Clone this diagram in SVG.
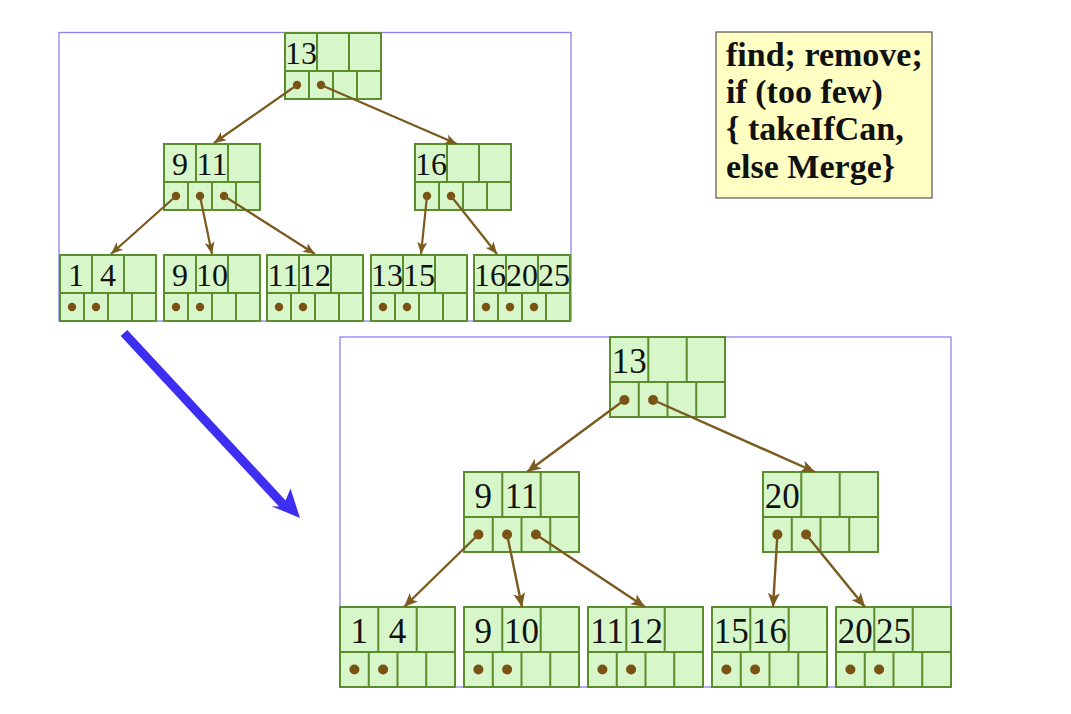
<svg xmlns="http://www.w3.org/2000/svg" width="1071" height="714" viewBox="0 0 1071 714">
<style>
.bg{fill:#ffffff}
.frame{fill:none;stroke:#8a84f0;stroke-width:1.3}
.nd{fill:#d7f7ca;stroke:#5b8c2e;stroke-width:2}
.dv{stroke:#5b8c2e;stroke-width:2}
.dot{fill:#7a5214}
.k1{font-family:"Liberation Serif",serif;font-size:32px;fill:#111;text-anchor:middle}
.k2{font-family:"Liberation Serif",serif;font-size:35px;fill:#111;text-anchor:middle}
.cn{stroke:#7a5a1e;fill:none}
.note{fill:#ffffc4;stroke:#555;stroke-width:1.2}
.nt{font-family:"Liberation Serif",serif;font-size:34px;font-weight:bold;fill:#111}
</style>
<defs>
<marker id="ah1" markerUnits="userSpaceOnUse" markerWidth="13" markerHeight="11" refX="12" refY="5.5" orient="auto">
<path d="M0,0.5 L12,5.5 L0,10.5 L3,5.5 z" fill="#7a5a1e"/>
</marker>
<marker id="ah2" markerUnits="userSpaceOnUse" markerWidth="15" markerHeight="13" refX="14" refY="6.5" orient="auto">
<path d="M0,0.5 L14,6.5 L0,12.5 L3.5,6.5 z" fill="#7a5a1e"/>
</marker>
</defs>
<rect class="bg" x="0" y="0" width="1071" height="714"/>

<rect class="frame" x="59" y="32.5" width="512" height="288.5"/>
<rect class="frame" x="340" y="337" width="611" height="350"/>

<!-- top tree nodes: 96x66, key row 38 -->
<g id="t-root">
<rect class="nd" x="285" y="33" width="96" height="66"/>
<path class="dv" d="M285,71H381M317,33V71M349,33V71M309,71V99M333,71V99M357,71V99"/>
<text class="k1" x="301" y="64">13</text>
<circle class="dot" cx="297" cy="85" r="4.2"/><circle class="dot" cx="321" cy="85" r="4.2"/>
</g>
<g id="t-mid-l">
<rect class="nd" x="164" y="144" width="96" height="66"/>
<path class="dv" d="M164,182H260M196,144V182M228,144V182M188,182V210M212,182V210M236,182V210"/>
<text class="k1" x="180" y="175">9</text><text class="k1" x="212" y="175">11</text>
<circle class="dot" cx="176" cy="196" r="4.2"/><circle class="dot" cx="200" cy="196" r="4.2"/><circle class="dot" cx="224" cy="196" r="4.2"/>
</g>
<g id="t-mid-r">
<rect class="nd" x="415" y="144" width="96" height="66"/>
<path class="dv" d="M415,182H511M447,144V182M479,144V182M439,182V210M463,182V210M487,182V210"/>
<text class="k1" x="431" y="175">16</text>
<circle class="dot" cx="427" cy="196" r="4.2"/><circle class="dot" cx="451" cy="196" r="4.2"/>
</g>
<g id="t-leaf1">
<rect class="nd" x="60" y="255" width="96" height="66"/>
<path class="dv" d="M60,293H156M92,255V293M124,255V293M84,293V321M108,293V321M132,293V321"/>
<text class="k1" x="76" y="286">1</text><text class="k1" x="108" y="286">4</text>
<circle class="dot" cx="72" cy="307" r="4.2"/><circle class="dot" cx="96" cy="307" r="4.2"/>
</g>
<g id="t-leaf2">
<rect class="nd" x="164" y="255" width="96" height="66"/>
<path class="dv" d="M164,293H260M196,255V293M228,255V293M188,293V321M212,293V321M236,293V321"/>
<text class="k1" x="180" y="286">9</text><text class="k1" x="212" y="286">10</text>
<circle class="dot" cx="176" cy="307" r="4.2"/><circle class="dot" cx="200" cy="307" r="4.2"/>
</g>
<g id="t-leaf3">
<rect class="nd" x="267" y="255" width="96" height="66"/>
<path class="dv" d="M267,293H363M299,255V293M331,255V293M291,293V321M315,293V321M339,293V321"/>
<text class="k1" x="283" y="286">11</text><text class="k1" x="315" y="286">12</text>
<circle class="dot" cx="279" cy="307" r="4.2"/><circle class="dot" cx="303" cy="307" r="4.2"/>
</g>
<g id="t-leaf4">
<rect class="nd" x="371" y="255" width="96" height="66"/>
<path class="dv" d="M371,293H467M403,255V293M435,255V293M395,293V321M419,293V321M443,293V321"/>
<text class="k1" x="387" y="286">13</text><text class="k1" x="419" y="286">15</text>
<circle class="dot" cx="383" cy="307" r="4.2"/><circle class="dot" cx="407" cy="307" r="4.2"/>
</g>
<g id="t-leaf5">
<rect class="nd" x="474" y="255" width="96" height="66"/>
<path class="dv" d="M474,293H570M506,255V293M538,255V293M498,293V321M522,293V321M546,293V321"/>
<text class="k1" x="490" y="286">16</text><text class="k1" x="522" y="286">20</text><text class="k1" x="554" y="286">25</text>
<circle class="dot" cx="486" cy="307" r="4.2"/><circle class="dot" cx="510" cy="307" r="4.2"/><circle class="dot" cx="534" cy="307" r="4.2"/>
</g>

<!-- bottom tree nodes: 115x80, key row 45 -->
<g id="b-root">
<rect class="nd" x="610" y="337" width="115" height="80"/>
<path class="dv" d="M610,382H725M648.3,337V382M686.7,337V382M638.75,382V417M667.5,382V417M696.25,382V417"/>
<text class="k2" x="629.2" y="373">13</text>
<circle class="dot" cx="624.4" cy="400" r="5"/><circle class="dot" cx="653.1" cy="400" r="5"/>
</g>
<g id="b-mid-l">
<rect class="nd" x="464" y="472" width="115" height="80"/>
<path class="dv" d="M464,517H579M502.3,472V517M540.7,472V517M492.75,517V552M521.5,517V552M550.25,517V552"/>
<text class="k2" x="483.2" y="508">9</text><text class="k2" x="521.5" y="508">11</text>
<circle class="dot" cx="478.4" cy="534.5" r="5"/><circle class="dot" cx="507.1" cy="534.5" r="5"/><circle class="dot" cx="535.9" cy="534.5" r="5"/>
</g>
<g id="b-mid-r">
<rect class="nd" x="763" y="472" width="115" height="80"/>
<path class="dv" d="M763,517H878M801.3,472V517M839.7,472V517M791.75,517V552M820.5,517V552M849.25,517V552"/>
<text class="k2" x="782.2" y="508">20</text>
<circle class="dot" cx="777.4" cy="534.5" r="5"/><circle class="dot" cx="806.1" cy="534.5" r="5"/>
</g>
<g id="b-leaf1">
<rect class="nd" x="340" y="607" width="115" height="80"/>
<path class="dv" d="M340,652H455M378.3,607V652M416.7,607V652M368.75,652V687M397.5,652V687M426.25,652V687"/>
<text class="k2" x="359.2" y="643">1</text><text class="k2" x="397.5" y="643">4</text>
<circle class="dot" cx="354.4" cy="669.5" r="5"/><circle class="dot" cx="383.1" cy="669.5" r="5"/>
</g>
<g id="b-leaf2">
<rect class="nd" x="464" y="607" width="115" height="80"/>
<path class="dv" d="M464,652H579M502.3,607V652M540.7,607V652M492.75,652V687M521.5,652V687M550.25,652V687"/>
<text class="k2" x="483.2" y="643">9</text><text class="k2" x="521.5" y="643">10</text>
<circle class="dot" cx="478.4" cy="669.5" r="5"/><circle class="dot" cx="507.1" cy="669.5" r="5"/>
</g>
<g id="b-leaf3">
<rect class="nd" x="588" y="607" width="115" height="80"/>
<path class="dv" d="M588,652H703M626.3,607V652M664.7,607V652M616.75,652V687M645.5,652V687M674.25,652V687"/>
<text class="k2" x="607.2" y="643">11</text><text class="k2" x="645.5" y="643">12</text>
<circle class="dot" cx="602.4" cy="669.5" r="5"/><circle class="dot" cx="631.1" cy="669.5" r="5"/>
</g>
<g id="b-leaf4">
<rect class="nd" x="712" y="607" width="115" height="80"/>
<path class="dv" d="M712,652H827M750.3,607V652M788.7,607V652M740.75,652V687M769.5,652V687M798.25,652V687"/>
<text class="k2" x="731.2" y="643">15</text><text class="k2" x="769.5" y="643">16</text>
<circle class="dot" cx="726.4" cy="669.5" r="5"/><circle class="dot" cx="755.1" cy="669.5" r="5"/>
</g>
<g id="b-leaf5">
<rect class="nd" x="836" y="607" width="115" height="80"/>
<path class="dv" d="M836,652H951M874.3,607V652M912.7,607V652M864.75,652V687M893.5,652V687M922.25,652V687"/>
<text class="k2" x="855.2" y="643">20</text><text class="k2" x="893.5" y="643">25</text>
<circle class="dot" cx="850.4" cy="669.5" r="5"/><circle class="dot" cx="879.1" cy="669.5" r="5"/>
</g>

<g id="connectors">
<g stroke-width="2.2" marker-end="url(#ah1)" class="cn">
<line x1="297" y1="85" x2="214" y2="143"/>
<line x1="321" y1="85" x2="457" y2="144"/>
<line x1="176" y1="196" x2="111" y2="254"/>
<line x1="200" y1="196" x2="212" y2="254"/>
<line x1="224" y1="196" x2="315" y2="254"/>
<line x1="427" y1="196" x2="421" y2="254"/>
<line x1="451" y1="196" x2="497" y2="254"/>
</g>
<g stroke-width="2.4" marker-end="url(#ah2)" class="cn">
<line x1="624.4" y1="400" x2="527" y2="472"/>
<line x1="653.1" y1="400" x2="815" y2="472"/>
<line x1="478.4" y1="534.5" x2="404" y2="607"/>
<line x1="507.1" y1="534.5" x2="522" y2="607"/>
<line x1="535.9" y1="534.5" x2="645" y2="607"/>
<line x1="777.4" y1="534.5" x2="773" y2="607"/>
<line x1="806.1" y1="534.5" x2="865" y2="607"/>
</g>
<polygon id="transition-arrow" fill="#3d2ef2" points="120.7,336.1 127.3,329.9 285.6,500.4 290.5,488.6 300,518 271.5,506.2 279,506.6"/>
</g>

<g id="note">
<rect class="note" x="716" y="32" width="216" height="166"/>
<text class="nt" x="726" y="66">find; remove;</text>
<text class="nt" x="726" y="103">if (too few)</text>
<text class="nt" x="726" y="140">{ takeIfCan,</text>
<text class="nt" x="726" y="178">else Merge}</text>
</g>
</svg>
